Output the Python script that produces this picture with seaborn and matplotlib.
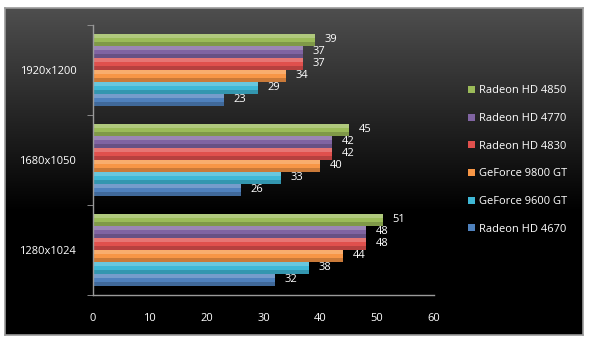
"""GPU benchmark: frames per second by resolution."""

import matplotlib

matplotlib.use("Agg")
import matplotlib.pyplot as plt
from matplotlib.patches import Rectangle
from matplotlib.ticker import FixedLocator
import numpy as np
import pandas as pd
import seaborn as sns

RESOLUTIONS = ["1920x1200", "1680x1050", "1280x1024"]
CARDS = [
    "Radeon HD 4850",
    "Radeon HD 4770",
    "Radeon HD 4830",
    "GeForce 9800 GT",
    "GeForce 9600 GT",
    "Radeon HD 4670",
]
FPS = {
    "Radeon HD 4850": [39, 45, 51],
    "Radeon HD 4770": [37, 42, 48],
    "Radeon HD 4830": [37, 42, 48],
    "GeForce 9800 GT": [34, 40, 44],
    "GeForce 9600 GT": [29, 33, 38],
    "Radeon HD 4670": [23, 26, 32],
}
COLORS = ["#9bbb59", "#8064a2", "#e0504d", "#f79646", "#3fb8d6", "#4f81bd"]

rows = [
    {"resolution": res, "card": card, "fps": FPS[card][i]}
    for card in CARDS
    for i, res in enumerate(RESOLUTIONS)
]
data = pd.DataFrame(rows)

sns.set_style("dark")
plt.rcParams["font.family"] = ["Open Sans", "DejaVu Sans"]

W, H = 589, 351
fig = plt.figure(figsize=(W / 100, H / 100), dpi=100, facecolor="white")

# dark gradient panel behind the chart
bg = fig.add_axes([5 / W, 1 - 335 / H, 578 / W, 327 / H])
grad = np.linspace(0, 1, 256).reshape(-1, 1)
grad = np.clip(grad * 1.6, 0, 1)
bg.imshow(grad, aspect="auto", cmap=matplotlib.colors.LinearSegmentedColormap.from_list(
    "panel", ["#4e4e4e", "#000000"]), extent=[0, 1, 1, 0])
bg.set_xlim(0, 1)
bg.set_ylim(1, 0)
bg.set_xticks([])
bg.set_yticks([])
for spine in bg.spines.values():
    spine.set_color("#9a9a9a")
    spine.set_linewidth(1.2)

ax = fig.add_axes([93 / W, 1 - 295 / H, 341 / W, 270 / H])
ax.set_facecolor("none")
sns.barplot(
    data=data,
    x="fps",
    y="resolution",
    hue="card",
    order=RESOLUTIONS,
    hue_order=CARDS,
    palette=COLORS,
    orient="h",
    width=0.8,
    ax=ax,
    saturation=1,
    linewidth=0,
    edgecolor="none",
)

for container in ax.containers:
    ax.bar_label(container, padding=7, color="white", fontsize=8)
    for bar in container:
        x, y = bar.get_x(), bar.get_y()
        w, h = bar.get_width(), bar.get_height()
        ax.add_patch(Rectangle((x, y), w, h * 0.35, color="white", alpha=0.22, lw=0))
        ax.add_patch(Rectangle((x, y + h * 0.7), w, h * 0.3, color="black", alpha=0.18, lw=0))

ax.set_xlim(0, 60)
ax.set_xticks(range(0, 61, 10))
ax.set_ylim(2.5, -0.5)
ax.yaxis.set_minor_locator(FixedLocator([-0.5, 0.5, 1.5, 2.5]))
ax.tick_params(axis="y", which="major", length=0, pad=12, colors="white", labelsize=8)
ax.tick_params(axis="y", which="minor", length=4, color="#9a9a9a", left=True)
ax.tick_params(axis="x", length=5, color="#9a9a9a", colors="white", labelsize=8, pad=8)
ax.set_xlabel("")
ax.set_ylabel("")
ax.grid(False)
for side in ["top", "right"]:
    ax.spines[side].set_visible(False)
for side in ["left", "bottom"]:
    ax.spines[side].set_visible(True)
    ax.spines[side].set_color("#9a9a9a")
    ax.spines[side].set_linewidth(1)

handles, labels = ax.get_legend_handles_labels()
leg = ax.legend(
    handles,
    labels,
    loc="center left",
    bbox_to_anchor=(1.07, 0.5),
    frameon=False,
    fontsize=8,
    labelcolor="white",
    handlelength=0.6,
    handleheight=0.6,
    handletextpad=0.4,
    labelspacing=1.5,
)
for handle in leg.legend_handles:
    handle.set_edgecolor("none")

fig.savefig("out.png", dpi=100, facecolor="white")
